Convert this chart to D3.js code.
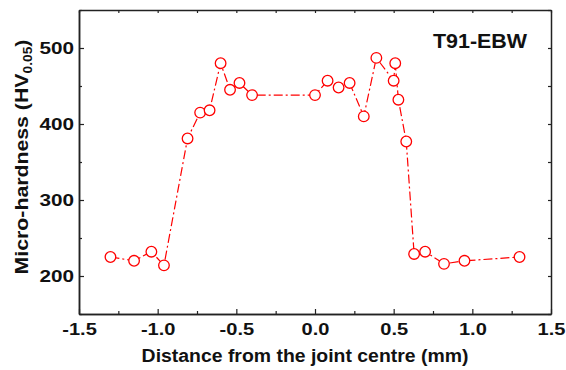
<!DOCTYPE html>
<html>
<head>
<meta charset="utf-8">
<script src="https://cdn.jsdelivr.net/npm/d3@7"></script>
<style>
  body { margin: 0; background: #fff; }
  svg text { font-family: "Liberation Sans", Arial, sans-serif; font-weight: bold; fill: #111; }
</style>
</head>
<body>
<svg width="566" height="370"></svg>
<script>
// distance from joint centre (mm) and micro-hardness (HV0.05)
var distance = [-1.30, -1.15, -1.04, -0.96, -0.81, -0.73, -0.67, -0.60, -0.54, -0.48, -0.40,
                 0.00, 0.08, 0.15, 0.22, 0.31, 0.39, 0.50, 0.51, 0.53, 0.58,
                 0.63, 0.70, 0.82, 0.95, 1.30];
var hardness = [225, 220, 232, 214, 381, 415, 418, 480, 445, 454, 438,
                438, 457, 448, 454, 410, 487, 457, 480, 432, 377,
                229, 232, 216, 220, 225];

var xTicks = [-1.5, -1.0, -0.5, 0.0, 0.5, 1.0, 1.5];
var yTicks = [200, 300, 400, 500];
var xMinor = [-1.25, -0.75, -0.25, 0.25, 0.75, 1.25];
var yMinor = [150, 250, 350, 450, 550];

var svg = d3.select("svg");
// plot box (note: "top" is taken by window.top, so use other names)
var pLeft = 79, pRight = 551, pTop = 10, pBottom = 314;

var x = d3.scaleLinear().domain([-1.5, 1.5]).range([pLeft, pRight]);
var y = d3.scaleLinear().domain([150, 550]).range([pBottom, pTop]);

var data = distance.map(function(d, i) { return {x: d, y: hardness[i]}; });

// axes, ticks pointing inward, mirrored on top and right
function styleAxis(g) {
  g.selectAll(".domain").attr("stroke", "#222").attr("stroke-width", 1.5);
  g.selectAll(".tick line").attr("stroke", "#222").attr("stroke-width", 1.2);
}

svg.append("g")
  .attr("transform", "translate(0," + pBottom + ")")
  .call(d3.axisBottom(x).tickValues(xTicks).tickSize(-5).tickPadding(9).tickSizeOuter(0))
  .call(styleAxis)
  .selectAll("text")
    .attr("font-size", 17)
    .attr("transform", "scale(1.18,1)")
    .text(function(d) { return d3.format(".1f")(d).replace("−", "-"); });

svg.append("g")
  .attr("transform", "translate(0," + pBottom + ")")
  .call(d3.axisBottom(x).tickValues(xMinor).tickSize(-3).tickFormat("").tickSizeOuter(0))
  .call(styleAxis);

svg.append("g")
  .attr("transform", "translate(" + pLeft + ",0)")
  .call(d3.axisLeft(y).tickValues(yTicks).tickSize(-5).tickPadding(4).tickSizeOuter(0))
  .call(styleAxis)
  .selectAll("text")
    .attr("font-size", 17)
    .attr("transform", "scale(1.22,1)");

svg.append("g")
  .attr("transform", "translate(" + pLeft + ",0)")
  .call(d3.axisLeft(y).tickValues(yMinor).tickSize(-3).tickFormat("").tickSizeOuter(0))
  .call(styleAxis);

svg.append("g")
  .attr("transform", "translate(0," + pTop + ")")
  .call(d3.axisTop(x).tickValues(xTicks.concat(xMinor)).tickSize(-3).tickFormat("").tickSizeOuter(0))
  .call(styleAxis);

svg.append("g")
  .attr("transform", "translate(" + pRight + ",0)")
  .call(d3.axisRight(y).tickValues(yTicks.concat(yMinor)).tickSize(-3).tickFormat("").tickSizeOuter(0))
  .call(styleAxis);

// dash-dot line
var line = d3.line()
  .x(function(d) { return x(d.x); })
  .y(function(d) { return y(d.y); });

svg.append("path")
  .datum(data)
  .attr("d", line)
  .attr("fill", "none")
  .attr("stroke", "#ff0000")
  .attr("stroke-width", 1.2)
  .attr("stroke-dasharray", "9,3,2,3");

// open circle markers
svg.append("g")
  .selectAll("circle")
  .data(data)
  .enter().append("circle")
    .attr("cx", function(d) { return x(d.x); })
    .attr("cy", function(d) { return y(d.y); })
    .attr("r", 5.3)
    .attr("fill", "#fff")
    .attr("stroke", "#ff0000")
    .attr("stroke-width", 1.3);

// labels
svg.append("text")
  .attr("transform", "translate(305,362) scale(1.05,1)")
  .attr("text-anchor", "middle")
  .attr("font-size", 18.5)
  .text("Distance from the joint centre (mm)");

var yTitle = svg.append("text")
  .attr("transform", "translate(28,157) rotate(-90) scale(1.15,1)")
  .attr("text-anchor", "middle")
  .attr("font-size", 18.5);
yTitle.append("tspan").text("Micro-hardness (HV");
yTitle.append("tspan").attr("font-size", 12).attr("dy", 4).text("0.05");
yTitle.append("tspan").attr("dy", -4).text(")");

svg.append("text")
  .attr("transform", "translate(433,48) scale(1.1,1)")
  .attr("font-size", 19.5)
  .text("T91-EBW");
</script>
</body>
</html>
